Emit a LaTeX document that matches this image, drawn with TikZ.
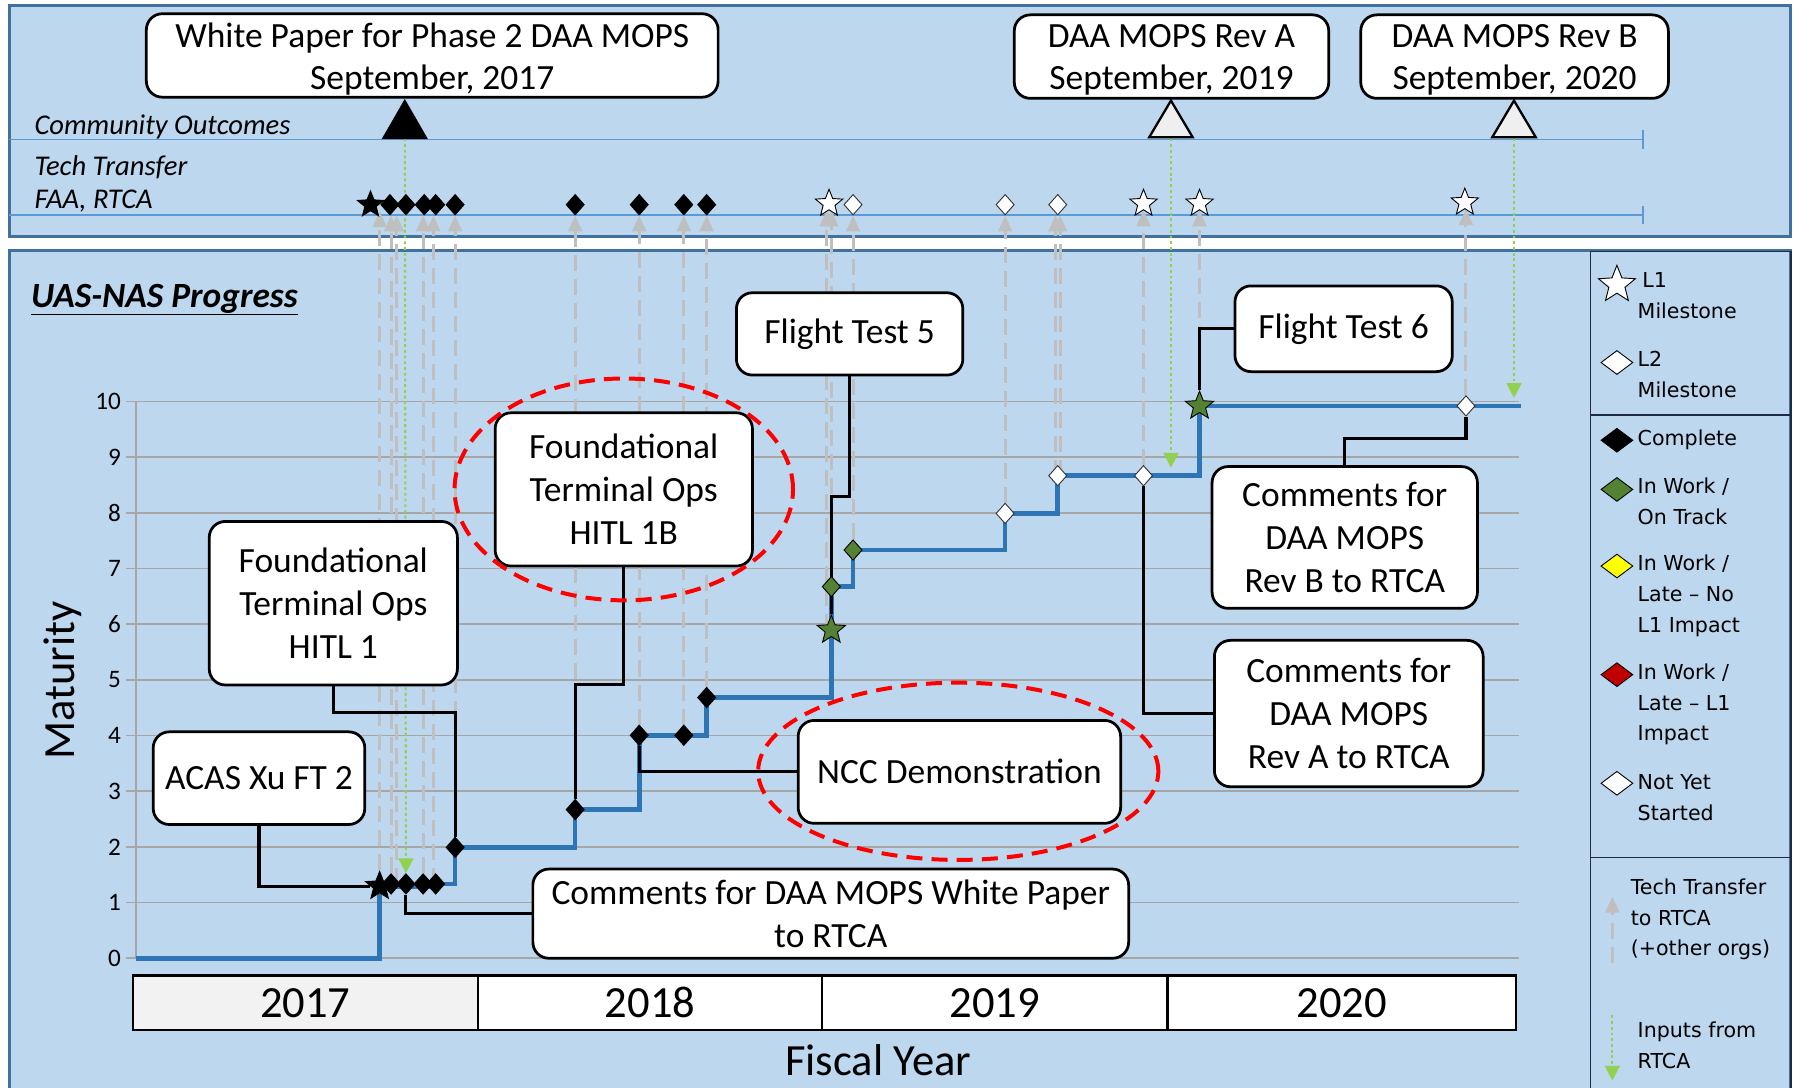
\documentclass[tikz,border=0pt]{standalone}
\usepackage{fontspec}
\setmainfont{Carlito}
\newfontfamily\legfont{DejaVu Sans}
\usetikzlibrary{shapes.geometric,shapes.misc,arrows.meta}
\pgfdeclarelayer{bg}
\pgfdeclarelayer{mid}
\pgfdeclarelayer{top}
\pgfsetlayers{bg,mid,main,top}
\definecolor{panel}{HTML}{BDD7EE}
\definecolor{panelborder}{HTML}{41719C}
\definecolor{rowline}{HTML}{5B9BD5}
\definecolor{gridc}{HTML}{A6A6A6}
\definecolor{stepblue}{HTML}{2E75B6}
\definecolor{ttgray}{HTML}{BFBFBF}
\definecolor{inputgreen}{HTML}{92D050}
\definecolor{workgreen}{HTML}{548235}
\definecolor{legborder}{HTML}{1F2A44}
\definecolor{yearfill}{HTML}{F2F2F2}
\definecolor{trifill}{HTML}{EFEFEF}
\definecolor{lateyellow}{HTML}{FFFF00}
\definecolor{latered}{HTML}{C00000}
\tikzset{
 box/.style={draw=black, line width=2.4pt, fill=white, rounded corners=14pt, align=center, inner sep=0pt, font=\fontsize{31}{37.5}\selectfont},
 topbox/.style={box},
 boxtext/.style={align=center, inner sep=0pt, font=\fontsize{31}{36.5}\selectfont},
 mk/.style={draw=black, line width=0.8pt, inner sep=0pt},
 dmd/.style={mk, diamond, minimum width=16pt, minimum height=18pt},
 bdm/.style={dmd, fill=black},
 wdm/.style={dmd, fill=white, draw=black!80},
 gdm/.style={dmd, fill=workgreen},
 strm/.style={mk, star, star points=5, star point ratio=2.3, minimum size=26pt},
 bst/.style={strm, fill=black},
 gst/.style={strm, fill=workgreen},
 wst/.style={strm, fill=white, minimum size=25pt},
 ldm/.style={mk, diamond, minimum width=28pt, minimum height=21pt},
 conn/.style={draw=black, line width=2.7pt},
 stepline/.style={draw=stepblue, line width=4pt},
 ttline/.style={draw=ttgray, line width=2.6pt, dash pattern=on 14pt off 7pt, -{Triangle[width=12pt,length=14pt]}},
 inarrow/.style={draw=inputgreen, line width=1.8pt, dash pattern=on 2.5pt off 2.5pt, -{Triangle[width=13pt,length=13pt]}},
 redring/.style={draw=red, line width=3.5pt, dash pattern=on 14pt off 8pt, ellipse, inner sep=0pt},
 lg/.style={anchor=west, align=left, inner sep=0pt, font=\legfont\fontsize{18}{27}\selectfont},
 yearcell/.style={draw=black, line width=2pt, inner sep=0pt, minimum height=48pt, font=\fontsize{39}{44}\selectfont},
 rowlabel/.style={anchor=west, inner sep=0pt, font=\itshape\fontsize{25}{28}\selectfont},
 ytick/.style={anchor=east, inner sep=0pt, font=\fontsize{22}{24}\selectfont}
}
\begin{document}
\begin{tikzpicture}[x=1pt,y=-1pt]
\useasboundingbox (0,0) rectangle (1568,951);

% ---------- text boxes ----------
\node[topbox, minimum width=500pt, minimum height=73pt] (wp) at (378,48.5) {};
\node[boxtext] (wpt) at ([yshift=-3pt]wp.center) {White Paper for Phase 2 DAA MOPS\\September, 2017};
\node[topbox, minimum width=275pt, minimum height=73pt] (reva) at (1024.5,49.5) {};
\node[boxtext] (revat) at ([yshift=-3pt]reva.center) {DAA MOPS Rev A\\September, 2019};
\node[topbox, minimum width=269pt, minimum height=73pt] (revb) at (1324.5,49.5) {};
\node[boxtext] (revbt) at ([yshift=-3pt]revb.center) {DAA MOPS Rev B\\September, 2020};

\node[box, minimum width=185pt, minimum height=81pt] (acas) at (226.5,680.5) {ACAS Xu FT 2};
\node[box, minimum width=217pt, minimum height=143pt] (hitl1) at (291.5,527.5) {Foundational\\Terminal Ops\\HITL 1};
\node[box, minimum width=225pt, minimum height=134pt] (hitl1b) at (545.5,428) {Foundational\\Terminal Ops\\HITL 1B};
\node[box, minimum width=198pt, minimum height=72pt] (ft5) at (743,292) {Flight Test 5};
\node[box, minimum width=282pt, minimum height=90pt] (ncc) at (839,675) {NCC Demonstration};
\node[box, minimum width=521pt, minimum height=78pt, font=\fontsize{31}{38}\selectfont] (wpc) at (726.5,799) {Comments for DAA MOPS White Paper\\to RTCA};
\node[box, minimum width=190pt, minimum height=75pt] (ft6) at (1175,287.5) {Flight Test 6};
\node[box, minimum width=232pt, minimum height=124pt] (crevb) at (1176,470) {Comments for\\DAA MOPS\\Rev B to RTCA};
\node[box, minimum width=235pt, minimum height=128pt] (creva) at (1179.5,624) {Comments for\\DAA MOPS\\Rev A to RTCA};

% ---------- year bar ----------
\node[yearcell, fill=yearfill, minimum width=302pt] (y17) at (267,877) {2017};
\node[yearcell, fill=white, minimum width=301pt] (y18) at (568.5,877) {2018};
\node[yearcell, fill=white, minimum width=302pt] (y19) at (870,877) {2019};
\node[yearcell, fill=white, minimum width=305pt] (y20) at (1173.5,877) {2020};
\node[font=\fontsize{39}{44}\selectfont, inner sep=0pt] (fy) at (768,927) {Fiscal Year};
\node[font=\fontsize{39}{44}\selectfont, inner sep=0pt, rotate=90] (mat) at (55,595) {Maturity};
\node[anchor=west, inner sep=0pt, font=\bfseries\itshape\fontsize{31}{34}\selectfont] (title) at (27,262) {\underline{UAS-NAS Progress}};

% axis numbers
\foreach \v in {0,...,10} {
  \node[ytick] (yl\v) at (106,838-48.7*\v) {\v};
}

% ---------- chart markers ----------
\node[bst] (m1) at (332,775) {};
\node[bdm] (m2) at (342,773) {};
\node[bdm] (m3) at (355,773) {};
\node[bdm] (m4) at (370,773) {};
\node[bdm] (m5) at (381,773) {};
\node[bdm] (m6) at (398,741) {};
\node[bdm] (m7) at (503,708) {};
\node[bdm] (m8) at (559,643) {};
\node[bdm] (m9) at (598,643) {};
\node[bdm] (m10) at (618,610) {};
\node[gst] (m11) at (727,551) {};
\node[gdm] (m12) at (727,513) {};
\node[gdm] (m13) at (746,481) {};
\node[wdm] (m14) at (879,449) {};
\node[wdm] (m15) at (925,416) {};
\node[wdm] (m16) at (1000,416) {};
\node[gst] (m17) at (1049,355) {};
\node[wdm] (m18) at (1282,355) {};
\coordinate (c0) at (119,838);
\coordinate (cend) at (1330,355);

% ---------- tech transfer row markers ----------
\node[bst, minimum size=24pt] (t1) at (324,179) {};
\node[bdm] (t2) at (341,179) {};
\node[bdm] (t3) at (355,179) {};
\node[bdm] (t4) at (371,179) {};
\node[bdm] (t5) at (381,179) {};
\node[bdm] (t6) at (398,179) {};
\node[bdm] (t7) at (503,179) {};
\node[bdm] (t8) at (559,179) {};
\node[bdm] (t9) at (598,179) {};
\node[bdm] (t10) at (618,179) {};
\node[wst] (t11) at (725,178) {};
\node[wdm] (t12) at (746,179) {};
\node[wdm] (t13) at (879,179) {};
\node[wdm] (t14) at (925,179) {};
\node[wst] (t15) at (1000,178) {};
\node[wst] (t16) at (1049,178) {};
\node[wst] (t17) at (1281,177) {};

% ---------- community outcome triangles ----------
\filldraw[black, line width=1.5pt, line join=miter] (335,121) -- (373,121) -- (354,88) -- cycle;
\filldraw[fill=trifill, draw=black, line width=2pt, line join=miter] (1005,120) -- (1043,120) -- (1024,88) -- cycle;
\filldraw[fill=trifill, draw=black, line width=2pt, line join=miter] (1305,120) -- (1343,120) -- (1324,88) -- cycle;
\coordinate (tri1) at (354,121);
\coordinate (tri2) at (1024,121);
\coordinate (tri3) at (1324,121);
\coordinate (in2) at (1024,409);
\coordinate (in3) at (1324,348);

% row labels
\node[rowlabel] (co) at (30,111) {Community Outcomes};
\node[rowlabel] (tt) at (30,146) {Tech Transfer};
\node[rowlabel] (faa) at (30,176) {FAA, RTCA};

% ---------- legend ----------
\node[wst, minimum size=34pt] (lstar) at (1414,249) {};
\node[lg] (ll1) at (1432,258.5) {\hspace*{4pt}L1\\Milestone};
\node[ldm, fill=white] (ld0) at (1414,317) {};
\node[lg] (ll2) at (1432,327.5) {L2\\Milestone};
\node[ldm, fill=black] (ld1) at (1414,385) {};
\node[lg] (lc) at (1432,385) {Complete};
\node[ldm, fill=workgreen] (ld2) at (1414,428) {};
\node[lg] (lw1) at (1432,438.5) {In Work /\\On Track};
\node[ldm, fill=lateyellow] (ld3) at (1414,495) {};
\node[lg] (lw2) at (1432,521) {In Work /\\Late – No\\L1 Impact};
\node[ldm, fill=latered] (ld4) at (1414,590) {};
\node[lg] (lw3) at (1432,616) {In Work /\\Late – L1\\Impact};
\node[ldm, fill=white] (ld5) at (1414,685) {};
\node[lg] (lw4) at (1432,697.5) {Not Yet\\Started};
\node[lg] (ltt) at (1426,804) {Tech Transfer\\to RTCA\\(+other orgs)};
\node[lg] (lin) at (1432,914.5) {Inputs from\\RTCA};
\coordinate (lga) at (1410,842);
\coordinate (lgb) at (1410,784);
\coordinate (lia) at (1410,888);
\coordinate (lib) at (1410,945);

% ---------- background ----------
\begin{pgfonlayer}{bg}
\filldraw[fill=panel, draw=panelborder, line width=2.5pt] (8,5) rectangle (1566,207);
\filldraw[fill=panel, draw=panelborder, line width=2.5pt] (8,219) rectangle (1566,965);
\draw[legborder, line width=1.5pt] (1391,220) rectangle (1566,363);
\draw[legborder, line width=1.5pt] (1391,363) rectangle (1566,750);
\draw[legborder, line width=1.5pt] (1391,750) rectangle (1566,965);
% row lines
\draw[rowline, line width=1.5pt] (8,122) -- (1437,122);
\draw[rowline, line width=1.5pt] (1437,114) -- (1437,130);
\draw[rowline, line width=1.5pt] (8,188) -- (1437,188);
\draw[rowline, line width=1.5pt] (1437,180) -- (1437,196);
% grid
\foreach \v in {0,...,10} {
  \draw[gridc, line width=1.5pt] (110,838-48.7*\v) -- (1328,838-48.7*\v);
}
\draw[gridc, line width=1.5pt] (119,351) -- (119,838);
% tech transfer arrows
\draw[ttline] (m1) -- (m1 |- t1.south);
\draw[ttline] (m2) -- (m2 |- t2.south);
\draw[ttline] ([xshift=5pt]m2.center) -- ([xshift=5pt]m2 |- t2.south);
\draw[ttline] (m4) -- (m4 |- t4.south);
\draw[ttline] ([xshift=-2pt]m5.center) -- ([xshift=-2pt]m5 |- t5.south);
\draw[ttline] (m6) -- (t6.south);
\draw[ttline] (m7) -- (t7.south);
\draw[ttline] (m8) -- (t8.south);
\draw[ttline] (m9) -- (t9.south);
\draw[ttline] (m10) -- (t10.south);
\draw[ttline] ([xshift=-4pt]m11.center) -- ([xshift=-4pt]m11 |- t11.south);
\draw[ttline] (m11) -- (m11 |- t11.south);
\draw[ttline] (m13) -- (t12.south);
\draw[ttline] (m14) -- (t13.south);
\draw[ttline] ([xshift=-2pt]m15.center) -- ([xshift=-2pt]m15 |- t14.south);
\draw[ttline] ([xshift=2pt]m15.center) -- ([xshift=2pt]m15 |- t14.south);
\draw[ttline] (m16) -- (t15.south);
\draw[ttline] (m17) -- (t16.south);
\draw[ttline] (m18) -- (m18 |- t17.south);
% inputs from RTCA
\draw[inarrow] (tri1) -- (m3.north);
\draw[inarrow] (tri2) -- (in2);
\draw[inarrow] (tri3) -- (in3);
% legend arrows
\draw[ttline] (lga) -- (lgb);
\draw[inarrow] (lia) -- (lib);
\end{pgfonlayer}

% ---------- progress line and callout connectors ----------
\begin{pgfonlayer}{mid}
\draw[stepline] (c0) -| (m1.center) -| (m5.center) -| (m6.center) -| (m7.center) -| (m8.center) -- (m9.center) -| (m10.center) -| (m11.center) -- (m12.center) -| (m13.center) -| (m14.center) -| (m15.center) -- (m16.center) -| (m17.center) -- (m18.center) -- (cend);
\draw[conn] (acas.south) |- (m1.west);
\draw[conn] (hitl1.south) -- ++(0,23) -| (m6.north);
\draw[conn] (hitl1b.south) -- ++(0,102) -| (m7.north);
\draw[conn] (ft5.south) -- ++(0,105) -| (m11.north);
\draw[conn] (ncc.west) -| (m8.south);
\draw[conn] (wpc.west) -| (m3.south);
\draw[conn] (creva.west) -| (m16.south);
\draw[conn] (crevb.north) -- ++(0,-23) -| (m18.south);
\draw[conn] (ft6.west) -| (m17.north);
\end{pgfonlayer}

% ---------- highlight rings ----------
\begin{pgfonlayer}{top}
\node[redring, minimum width=296pt, minimum height=194pt] (ring1) at (545.5,428) {};
\node[redring, minimum width=350pt, minimum height=155pt] (ring2) at (838,674.5) {};
\end{pgfonlayer}
\end{tikzpicture}
\end{document}
